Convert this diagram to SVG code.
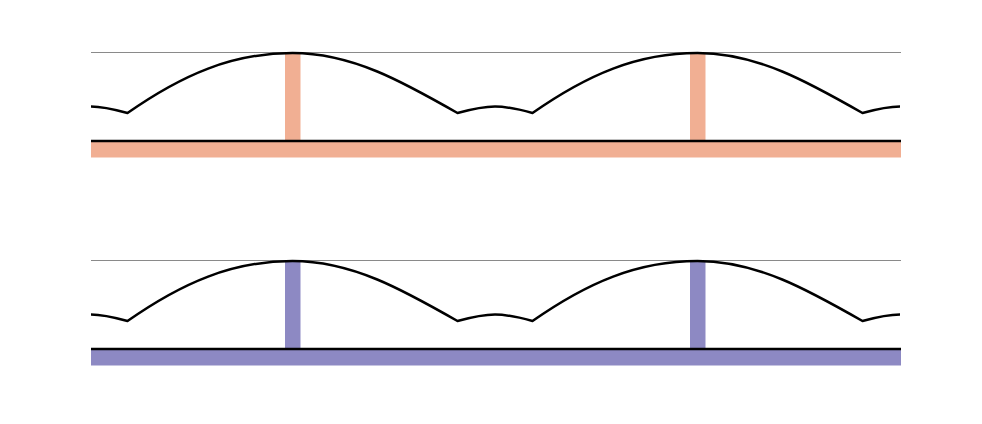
<svg xmlns="http://www.w3.org/2000/svg" width="982" height="424" viewBox="0 0 982 424">
<style>
.ref{stroke:#8a8a8a;stroke-width:1;fill:none}
.base{stroke:#000;stroke-width:2.7;fill:none}
.wave{stroke:#000;stroke-width:2.5;fill:none;stroke-linejoin:miter}
.salmon{fill:#F1AF93}
.purple{fill:#8D89C3}
</style>
<defs>
<path id="wavepath" d="M91,106.5 C103.57,106.5 115.27,109.67 127.5,113 C182.5,74.5 232.5,53 292.5,53 C352.22,53 403.69,82.26 457.5,113 C469.73,109.67 481.43,106.5 495,106.5 C508.57,106.5 520.27,109.67 532.5,113 C587.5,74.5 637.5,53 697.5,53 C757.22,53 808.69,82.26 862.5,113 C874.73,109.67 886.43,106.5 900,106.5"/>
</defs>
<g id="panel-top">
<rect class="salmon" x="91" y="142" width="810" height="15.5"/>
<rect class="salmon" x="285" y="53" width="15.5" height="88"/>
<rect class="salmon" x="690" y="53" width="15.5" height="88"/>
<line class="ref" x1="91" y1="52.5" x2="901" y2="52.5"/>
<line class="base" x1="91" y1="141" x2="901" y2="141"/>
<use href="#wavepath" class="wave"/>
</g>
<g id="panel-bottom" transform="translate(0,208)">
<rect class="purple" x="91" y="142" width="810" height="15.5"/>
<rect class="purple" x="285" y="53" width="15.5" height="88"/>
<rect class="purple" x="690" y="53" width="15.5" height="88"/>
<line class="ref" x1="91" y1="52.5" x2="901" y2="52.5"/>
<line class="base" x1="91" y1="141" x2="901" y2="141"/>
<use href="#wavepath" class="wave"/>
</g>
</svg>
